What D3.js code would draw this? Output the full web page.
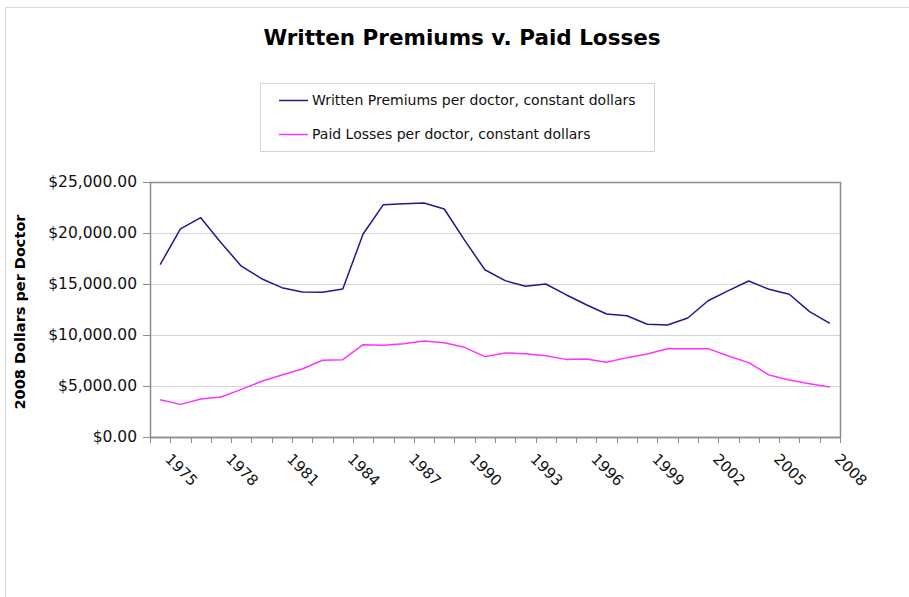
<!DOCTYPE html>
<html lang="en">
<head>
    <meta charset="utf-8" />
    <title>Written Premiums v. Paid Losses</title>
    <script src="https://d3js.org/d3.v7.min.js"></script>
    <style>
        body {
            margin: 0;
            padding: 0;
            background: #fff;
            font-family: "DejaVu Sans", Verdana, sans-serif;
        }
    </style>
</head>
<body>
<svg id="chart"></svg>
<script>
    var w = 909;
    var h = 597;

    // Years on the category axis
    var years = d3.range(1975, 2009);
    // Every third year gets a label
    var yearLabels = [1975, 1978, 1981, 1984, 1987, 1990, 1993, 1996, 1999, 2002, 2005, 2008];
    var yTicks = [0, 5000, 10000, 15000, 20000, 25000];

    var seriesNames = ["Written Premiums per doctor, constant dollars", "Paid Losses per doctor, constant dollars"];
    var seriesColors = ["#1c1c8c", "#ff33ff"];

    // Written premiums per doctor (2008 dollars)
    var premiums = [16900, 20400, 21500, 19050, 16750, 15520, 14640, 14220, 14180, 14510,
                    19900, 22780, 22870, 22940, 22350, 19300, 16400, 15330, 14770, 15000,
                    13950, 12970, 12060, 11890, 11050, 10980, 11670, 13360, 14350, 15290,
                    14480, 13990, 12290, 11140];
    // Paid losses per doctor (2008 dollars)
    var losses = [3660, 3200, 3725, 3920, 4670, 5460, 6080, 6670, 7520, 7580,
                  9050, 8990, 9150, 9410, 9250, 8790, 7880, 8240, 8170, 7970,
                  7610, 7650, 7320, 7780, 8140, 8660, 8660, 8660, 7940, 7290,
                  6080, 5590, 5230, 4900];

    var margin = {left: 150, right: 69, top: 182, bottom: 160};
    var pw = w - margin.left - margin.right;
    var ph = h - margin.top - margin.bottom;

    var svg = d3.select("#chart")
                .attr("width", w)
                .attr("height", h);

    // Outer chart border
    svg.append("rect")
        .attr("x", 5.5)
        .attr("y", 7.5)
        .attr("width", w + 10)
        .attr("height", h + 10)
        .attr("fill", "none")
        .attr("stroke", "#d9d9d9");

    // Title
    svg.append("text")
        .attr("x", 462)
        .attr("y", 45)
        .attr("text-anchor", "middle")
        .attr("font-size", "21.5px")
        .attr("font-weight", "bold")
        .text("Written Premiums v. Paid Losses");

    var g = svg.append("g")
        .attr("transform", "translate(" + margin.left + "," + margin.top + ")");

    var xScale = d3.scaleBand()
        .domain(years)
        .range([0, pw]);

    var yScale = d3.scaleLinear()
        .domain([0, 25000])
        .range([ph, 0]);

    // Gridlines
    g.selectAll(".grid")
        .data(yTicks.slice(1))
        .enter().append("line")
        .attr("x1", 0)
        .attr("x2", pw)
        .attr("y1", function(d) { return Math.round(yScale(d)) + 0.5; })
        .attr("y2", function(d) { return Math.round(yScale(d)) + 0.5; })
        .attr("stroke", "#d4d4d4");

    // Plot frame
    g.append("rect")
        .attr("x", 0.5)
        .attr("y", 0.5)
        .attr("width", pw)
        .attr("height", ph)
        .attr("fill", "none")
        .attr("stroke", "#8c8c8c")
        .attr("stroke-width", 1.5);

    // Y axis
    var yAxis = d3.axisLeft(yScale)
        .tickValues(yTicks)
        .tickSize(7)
        .tickPadding(6)
        .tickFormat(function(d) { return "$" + d3.format(",.2f")(d); });

    var yg = g.append("g").call(yAxis);
    yg.select(".domain").attr("stroke", "#8c8c8c");
    yg.selectAll(".tick line").attr("stroke", "#8c8c8c");
    yg.selectAll(".tick text")
        .attr("font-family", "'DejaVu Sans', Verdana, sans-serif")
        .attr("font-size", "15.5px")
        .attr("fill", "#111");

    // X axis: ticks between categories
    var xg = g.append("g")
        .attr("transform", "translate(0," + ph + ")");

    xg.append("line")
        .attr("x1", 0)
        .attr("x2", pw)
        .attr("y1", 0.5)
        .attr("y2", 0.5)
        .attr("stroke", "#8c8c8c")
        .attr("stroke-width", 1.5);

    xg.selectAll(".xtick")
        .data(years.concat([2009]))
        .enter().append("line")
        .attr("x1", function(d, i) { return Math.round(i * xScale.step()) + 0.5; })
        .attr("x2", function(d, i) { return Math.round(i * xScale.step()) + 0.5; })
        .attr("y1", 0)
        .attr("y2", 6)
        .attr("stroke", "#8c8c8c");

    xg.selectAll(".xlabel")
        .data(yearLabels)
        .enter().append("text")
        .attr("transform", function(d) {
            var x = xScale(d) + xScale.bandwidth() / 2 + 4;
            return "translate(" + x + ",23) rotate(45)";
        })
        .attr("text-anchor", "start")
        .attr("font-size", "15px")
        .attr("fill", "#111")
        .text(function(d) { return d; });

    // Lines
    var line = d3.line()
        .x(function(d, i) { return xScale(years[i]) + xScale.bandwidth() / 2; })
        .y(function(d) { return yScale(d); });

    [premiums, losses].forEach(function(s, k) {
        g.append("path")
            .datum(s)
            .attr("d", line)
            .attr("fill", "none")
            .attr("stroke", seriesColors[k])
            .attr("stroke-width", 1.5)
            .attr("stroke-linejoin", "round");
    });

    // Y axis title
    svg.append("text")
        .attr("transform", "translate(25,312) rotate(-90)")
        .attr("text-anchor", "middle")
        .attr("font-size", "14.5px")
        .attr("font-weight", "bold")
        .text("2008 Dollars per Doctor");

    // Legend
    var legend = svg.append("g");
    legend.append("rect")
        .attr("x", 260.5)
        .attr("y", 83.5)
        .attr("width", 394)
        .attr("height", 68)
        .attr("fill", "#fff")
        .attr("stroke", "#d4d4d4");

    var items = legend.selectAll(".item")
        .data(seriesNames)
        .enter().append("g")
        .attr("transform", function(d, i) { return "translate(279," + (100 + i * 34) + ")"; });

    items.append("line")
        .attr("x1", 0)
        .attr("x2", 29)
        .attr("y1", 0.5)
        .attr("y2", 0.5)
        .attr("stroke", function(d, i) { return seriesColors[i]; })
        .attr("stroke-width", 1.5);

    items.append("text")
        .attr("x", 33)
        .attr("y", 5)
        .attr("font-size", "14px")
        .attr("fill", "#111")
        .text(function(d) { return d; });
</script>
</body>
</html>
